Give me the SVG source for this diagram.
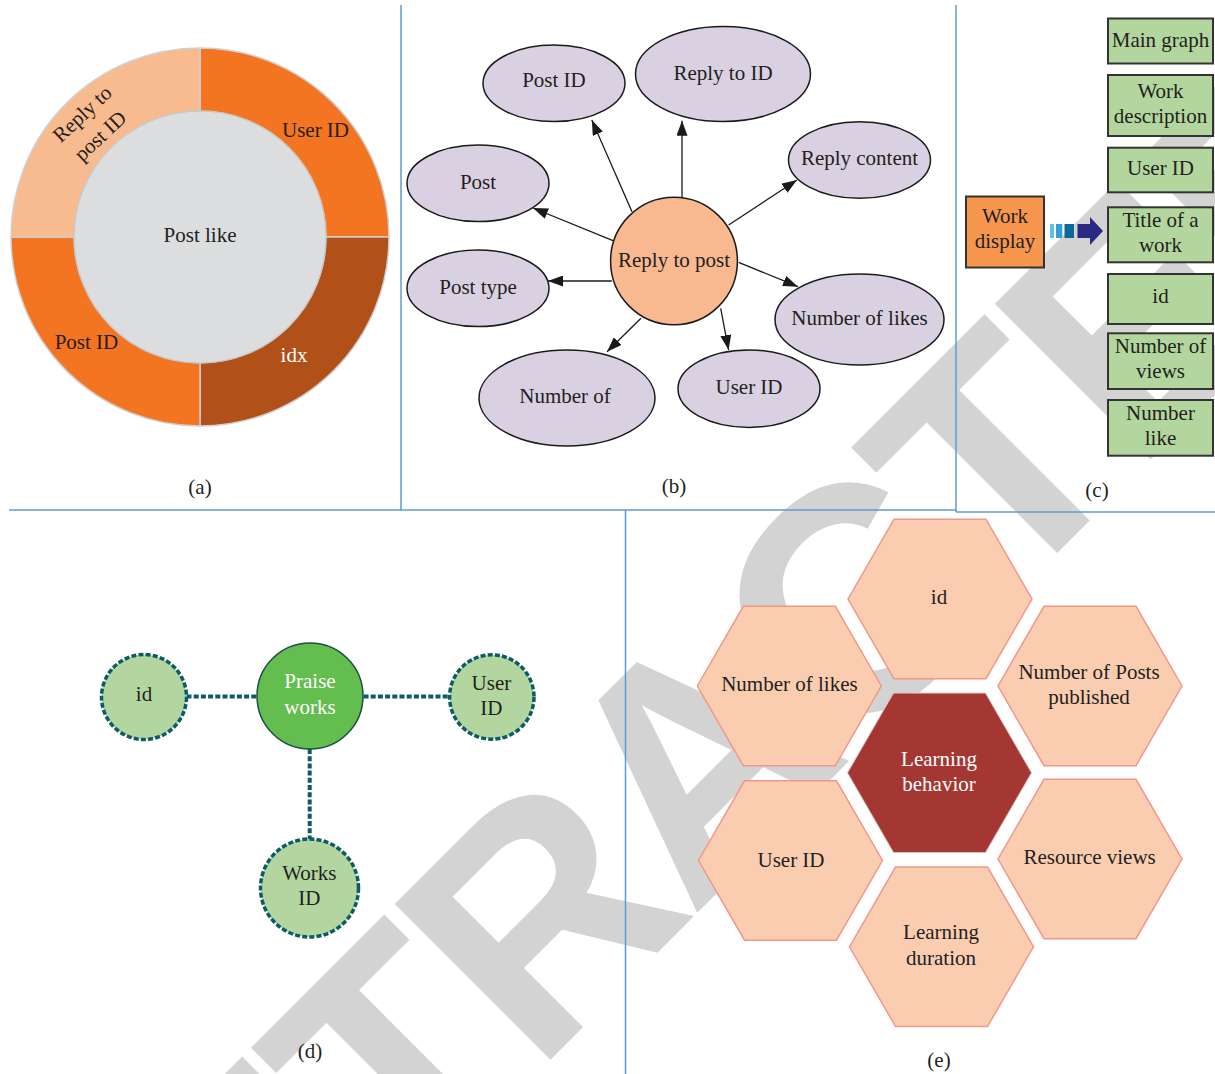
<svg xmlns="http://www.w3.org/2000/svg" width="1215" height="1074" viewBox="0 0 1215 1074">
<style>
text{font-family:"Liberation Serif","Times New Roman",serif;font-size:21px;fill:#231f20;text-anchor:middle}
.w{fill:#ffffff}
.div{stroke:#5b9bd5;stroke-width:1.5;fill:none}
.ell{fill:#d9d0e2;stroke:#1a1a1a;stroke-width:1.5}
.arr{stroke:#1a1a1a;stroke-width:1.3;fill:none;marker-end:url(#ah)}
.gbox{fill:#b3d69f;stroke:#333333;stroke-width:2}
.dc{fill:#b3d6a0;stroke:#0d5a68;stroke-width:3.5;stroke-dasharray:5 2.2}
.dl{stroke:#0d5a68;stroke-width:4;stroke-dasharray:5 2.2;fill:none}
.hex{fill:#fbcdb0;stroke:#f0978a;stroke-width:1.5}
.seg{stroke:#d0d0d0;stroke-width:1.5}
</style>
<defs>
<marker id="ah" markerUnits="userSpaceOnUse" markerWidth="15" markerHeight="11" refX="15" refY="5.5" orient="auto"><path d="M0,0 L15,5.5 L0,11 z" fill="#1a1a1a"/></marker>
<polygon id="hexshape" points="-92,0 -46,-79.7 46,-79.7 92,0 46,79.7 -46,79.7"/>
</defs>
<rect width="1215" height="1074" fill="#ffffff"/>
<text id="watermark" x="-991.5" y="1138.5" transform="rotate(-45)" style="font-family:'Liberation Sans',Arial,sans-serif;font-weight:bold;font-size:320px;letter-spacing:-10px;fill:#d3d3d3;text-anchor:start">RETRACTED</text>

<g id="dividers">
<line class="div" x1="401" y1="5" x2="401" y2="510"/>
<line class="div" x1="956" y1="5" x2="956" y2="512"/>
<line class="div" x1="9" y1="510" x2="956" y2="510"/>
<line class="div" x1="956" y1="512" x2="1215" y2="512"/>
<line class="div" x1="625.5" y1="510" x2="625.5" y2="1074"/>
</g>

<!-- Panel (a) -->
<g id="a-user-id">
<path class="seg" fill="#f37521" d="M200,48 A189,189 0 0 1 389,237 L326,237 A126,126 0 0 0 200,111 Z"/>
<text x="315.5" y="137">User ID</text>
</g>
<g id="a-idx">
<path class="seg" fill="#b15018" d="M389,237 A189,189 0 0 1 200,426 L200,363 A126,126 0 0 0 326,237 Z"/>
<text class="w" x="294" y="362">idx</text>
</g>
<g id="a-post-id">
<path class="seg" fill="#f37521" d="M200,426 A189,189 0 0 1 11,237 L74,237 A126,126 0 0 0 200,363 Z"/>
<text x="86.5" y="349">Post ID</text>
</g>
<g id="a-reply-to-post-id">
<path class="seg" fill="#f8ba8f" d="M11,237 A189,189 0 0 1 200,48 L200,111 A126,126 0 0 0 74,237 Z"/>
<text transform="translate(87,119) rotate(-43)">Reply to</text>
<text transform="translate(105,141) rotate(-43)">post ID</text>
</g>
<g id="a-post-like">
<circle cx="200" cy="237" r="126" fill="#dcdddf" stroke="#c4c4c4" stroke-width="1"/>
<text x="200" y="242">Post like</text>
</g>
<text id="label-a" x="200" y="494">(a)</text>

<!-- Panel (b) -->
<g id="b-connectors">
<line class="arr" x1="632" y1="211.7" x2="591.8" y2="120"/>
<line class="arr" x1="682" y1="197.3" x2="682" y2="120.7"/>
<line class="arr" x1="728.6" y1="225" x2="797" y2="180"/>
<line class="arr" x1="613" y1="240.7" x2="533" y2="208"/>
<line class="arr" x1="611.8" y1="281" x2="548" y2="281"/>
<line class="arr" x1="738.6" y1="262.3" x2="798" y2="286.7"/>
<line class="arr" x1="720.7" y1="308.3" x2="728.6" y2="350"/>
<line class="arr" x1="641" y1="318.3" x2="607" y2="351.7"/>
</g>
<g id="b-post-id"><ellipse class="ell" cx="554" cy="83.3" rx="71" ry="38.3"/><text x="554" y="87.3">Post ID</text></g>
<g id="b-reply-to-id"><ellipse class="ell" cx="723" cy="74" rx="87.5" ry="47.5"/><text x="723" y="80">Reply to ID</text></g>
<g id="b-reply-content"><ellipse class="ell" cx="859.5" cy="160" rx="71" ry="38.3"/><text x="859.5" y="165">Reply content</text></g>
<g id="b-post"><ellipse class="ell" cx="478" cy="183.3" rx="71" ry="38.3"/><text x="478" y="189.3">Post</text></g>
<g id="b-post-type"><ellipse class="ell" cx="478" cy="288.3" rx="71" ry="38.3"/><text x="478" y="294">Post type</text></g>
<g id="b-number-of-likes"><ellipse class="ell" cx="859.5" cy="319.5" rx="84.5" ry="45.5"/><text x="859.5" y="325">Number of likes</text></g>
<g id="b-user-id"><ellipse class="ell" cx="749" cy="388.7" rx="71" ry="38.7"/><text x="749" y="394">User ID</text></g>
<g id="b-number-of"><ellipse class="ell" cx="567" cy="398" rx="88" ry="48"/><text x="565" y="403.3">Number of</text></g>
<g id="b-reply-to-post"><ellipse cx="674" cy="261" rx="63.4" ry="63.8" fill="#f8b990" stroke="#1a1a1a" stroke-width="1.5"/><text x="674" y="266.7">Reply to post</text></g>
<text id="label-b" x="674" y="493">(b)</text>

<!-- Panel (c) -->
<g id="c-connector">
<rect x="1050" y="224" width="4" height="14" fill="#5ec1ec"/>
<rect x="1056" y="224" width="6.3" height="14" fill="#35a0d6"/>
<rect x="1064.5" y="224" width="9.5" height="14" fill="#0c6a9b"/>
<polygon points="1077.5,224 1090,224 1090,217 1103,231 1090,245 1090,238 1077.5,238" fill="#2b2a82"/>
</g>
<g id="c-work-display"><rect x="966" y="196.5" width="78" height="71" fill="#f7964f" stroke="#333333" stroke-width="2"/><text x="1005" y="223.3">Work</text><text x="1005" y="248.3">display</text></g>
<g id="c-main-graph"><rect class="gbox" x="1108" y="18.5" width="105" height="45"/><text x="1160.5" y="46.7">Main graph</text></g>
<g id="c-work-description"><rect class="gbox" x="1108" y="75" width="105" height="61"/><text x="1160.5" y="97.7">Work</text><text x="1160.5" y="123.3">description</text></g>
<g id="c-user-id"><rect class="gbox" x="1108" y="147.7" width="105" height="44.6"/><text x="1160.5" y="175">User ID</text></g>
<g id="c-title"><rect class="gbox" x="1108" y="207.3" width="105" height="55"/><text x="1160.5" y="226.7">Title of a</text><text x="1160.5" y="251.7">work</text></g>
<g id="c-id"><rect class="gbox" x="1108" y="274" width="105" height="50"/><text x="1160.5" y="303.3">id</text></g>
<g id="c-number-of-views"><rect class="gbox" x="1108" y="333.3" width="105" height="55.7"/><text x="1160.5" y="353.3">Number of</text><text x="1160.5" y="378.3">views</text></g>
<g id="c-number-like"><rect class="gbox" x="1108" y="400" width="105" height="55.7"/><text x="1160.5" y="420">Number</text><text x="1160.5" y="445">like</text></g>
<text id="label-c" x="1097" y="497">(c)</text>

<!-- Panel (d) -->
<g id="d-connectors">
<line class="dl" x1="186.5" y1="696.6" x2="257" y2="696.6"/>
<line class="dl" x1="363.5" y1="696.6" x2="449.6" y2="696.6"/>
<line class="dl" x1="309.7" y1="749" x2="309.7" y2="839"/>
</g>
<g id="d-id"><circle class="dc" cx="144" cy="697" r="42.5"/><text x="144" y="701">id</text></g>
<g id="d-user-id"><circle class="dc" cx="491.8" cy="697" r="42.2"/><text x="491.4" y="690">User</text><text x="491.4" y="714.7">ID</text></g>
<g id="d-works-id"><circle class="dc" cx="309.5" cy="888" r="49"/><text x="309.3" y="879.8">Works</text><text x="309.3" y="904.9">ID</text></g>
<g id="d-praise-works"><circle cx="310" cy="696" r="53" fill="#64bd4f" stroke="#1d4f43" stroke-width="1.5"/><text class="w" x="310" y="688.2">Praise</text><text class="w" x="310" y="713.6">works</text></g>
<text id="label-d" x="310" y="1058">(d)</text>

<!-- Panel (e) -->
<g id="e-id"><use href="#hexshape" class="hex" transform="translate(940,599)"/><text x="939" y="603.7">id</text></g>
<g id="e-number-of-likes"><use href="#hexshape" class="hex" transform="translate(789.3,686)"/><text x="789.4" y="691">Number of likes</text></g>
<g id="e-number-of-posts"><use href="#hexshape" class="hex" transform="translate(1090,686)"/><text x="1089" y="679.2">Number of Posts</text><text x="1089" y="703.8">published</text></g>
<g id="e-user-id"><use href="#hexshape" class="hex" transform="translate(790.5,860.5)"/><text x="791" y="866.8">User ID</text></g>
<g id="e-resource-views"><use href="#hexshape" class="hex" transform="translate(1090,859)"/><text x="1089.6" y="864.2">Resource views</text></g>
<g id="e-learning-duration"><use href="#hexshape" class="hex" transform="translate(941.5,946.8)"/><text x="941" y="939.3">Learning</text><text x="941" y="965">duration</text></g>
<g id="e-learning-behavior"><use href="#hexshape" transform="translate(939.5,772.8)" fill="#a53733" stroke="#d8c0bc" stroke-width="1"/><text class="w" x="939" y="765.5">Learning</text><text class="w" x="939" y="791">behavior</text></g>
<text id="label-e" x="939" y="1066.5">(e)</text>
</svg>
